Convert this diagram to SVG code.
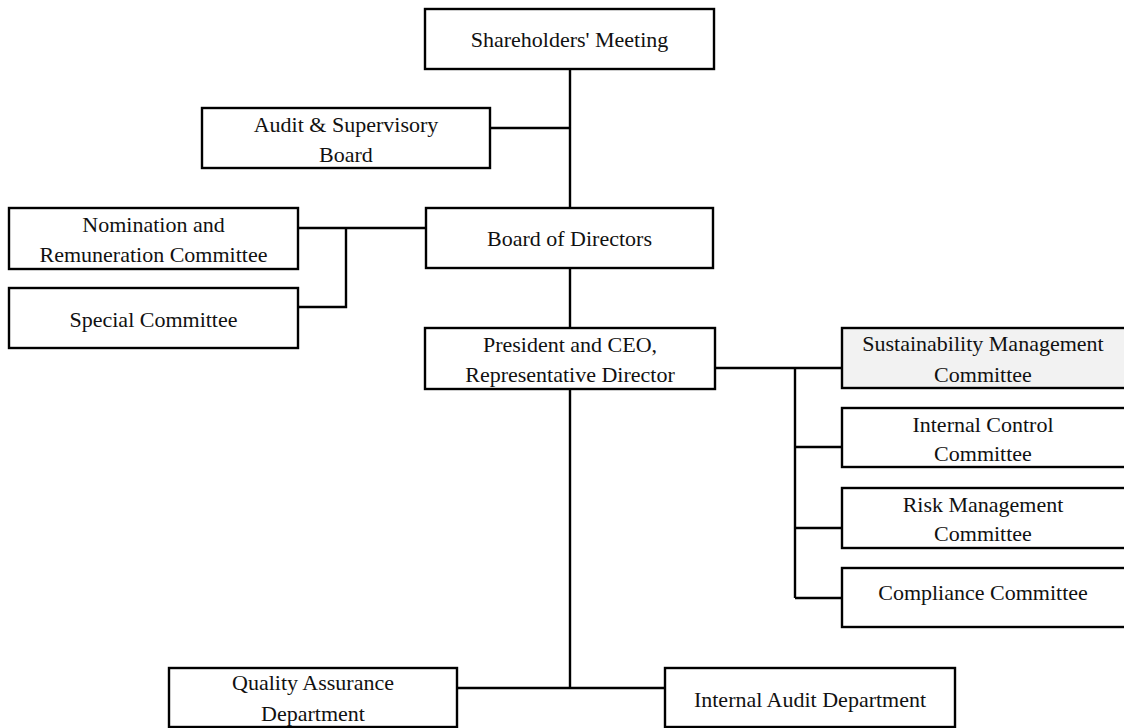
<svg xmlns="http://www.w3.org/2000/svg" width="1124" height="728" viewBox="0 0 1124 728">
<style>
.box{fill:#fff;stroke:#000;stroke-width:2.4}
.hl{fill:#f2f2f2}
.t{font-family:"Liberation Serif","Times New Roman",serif;font-size:22px;fill:#111;text-anchor:middle}
.c{fill:none;stroke:#000;stroke-width:2.4}
</style>
<rect width="1124" height="728" fill="#fff"/>
<g id="connectors">
<path class="c" d="M570 69V208M490 128H570M570 268V328M298 228H426M346 228V307H298M715 368H842M795 368V598M795 447H842M795 528H842M795 598H842M570 389V688M457 688H665"/>
</g>
<g id="shareholders"><rect class="box" x="425" y="9" width="289" height="60"/><text class="t" x="569.5" y="47">Shareholders' Meeting</text></g>
<g id="audit-board"><rect class="box" x="202" y="108" width="288" height="60"/><text class="t" x="346" y="132">Audit &amp; Supervisory</text><text class="t" x="346" y="162">Board</text></g>
<g id="board"><rect class="box" x="426" y="208" width="287" height="60"/><text class="t" x="569.5" y="246">Board of Directors</text></g>
<g id="nomination"><rect class="box" x="9" y="208" width="289" height="61"/><text class="t" x="153.5" y="232">Nomination and</text><text class="t" x="153.5" y="262">Remuneration Committee</text></g>
<g id="special"><rect class="box" x="9" y="288" width="289" height="60"/><text class="t" x="153.5" y="327">Special Committee</text></g>
<g id="president"><rect class="box" x="425" y="328" width="290" height="61"/><text class="t" x="570" y="352">President and CEO,</text><text class="t" x="570" y="382">Representative Director</text></g>
<g id="sustainability"><rect class="box hl" x="842" y="328" width="290" height="60"/><text class="t" x="983" y="351">Sustainability Management</text><text class="t" x="983" y="382">Committee</text></g>
<g id="internal-control"><rect class="box" x="842" y="408" width="290" height="59"/><text class="t" x="983" y="432">Internal Control</text><text class="t" x="983" y="461">Committee</text></g>
<g id="risk"><rect class="box" x="842" y="488" width="290" height="60"/><text class="t" x="983" y="512">Risk Management</text><text class="t" x="983" y="541">Committee</text></g>
<g id="compliance"><rect class="box" x="842" y="568" width="290" height="59"/><text class="t" x="983" y="600">Compliance Committee</text></g>
<g id="quality"><rect class="box" x="169" y="668" width="288" height="59"/><text class="t" x="313" y="690">Quality Assurance</text><text class="t" x="313" y="721">Department</text></g>
<g id="internal-audit"><rect class="box" x="665" y="668" width="290" height="59"/><text class="t" x="810" y="707">Internal Audit Department</text></g>
</svg>
